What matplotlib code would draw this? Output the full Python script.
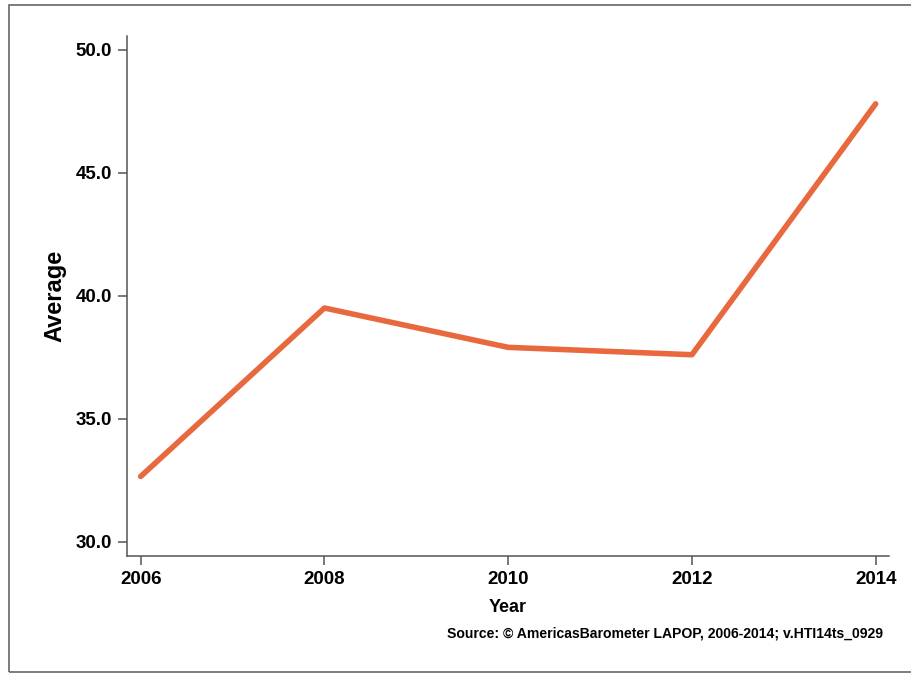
import matplotlib
matplotlib.use("Agg")
import matplotlib.pyplot as plt
from matplotlib.patches import Rectangle

years = [2006, 2008, 2010, 2012, 2014]
average = [32.65, 39.5, 37.9, 37.6, 47.8]
yticks = [30.0, 35.0, 40.0, 45.0, 50.0]
ytick_labels = ["30.0", "35.0", "40.0", "45.0", "50.0"]

plt.rcParams['font.family'] = ['Liberation Sans', 'DejaVu Sans']
plt.rcParams['font.weight'] = 'bold'

W, H = 911, 673
fig = plt.figure(figsize=(W / 100, H / 100), dpi=100)
fig.patch.set_facecolor('white')

# outer frame
fig.patches.append(Rectangle((8.5 / W, 1.5 / H), 1.2, (H - 6) / H,
                             transform=fig.transFigure, fill=False,
                             edgecolor='#666666', linewidth=1.2))

ax = fig.add_axes([126.7 / W, (H - 555.7) / H, (889 - 126.7) / W, (555.7 - 36) / H])
ax.plot(years, average, color='#E8693D', linewidth=4.0, solid_capstyle='round',
        solid_joinstyle='round')

ax.set_xlim(2005.848, 2014.145)
ax.set_ylim(29.43, 50.557)
ax.set_xticks(years)
ax.set_xticklabels([str(y) for y in years])
ax.set_yticks(yticks)
ax.set_yticklabels(ytick_labels)

for s in ['top', 'right']:
    ax.spines[s].set_visible(False)
for s in ['left', 'bottom']:
    ax.spines[s].set_color('#555555')
    ax.spines[s].set_linewidth(1.1)
ax.tick_params(axis='both', colors='#555555', labelcolor='black', labelsize=13.5,
               length=6.5, width=1.1, direction='out')
ax.tick_params(axis='y', pad=4)
ax.tick_params(axis='x', pad=4.5)
for lab in ax.get_xticklabels() + ax.get_yticklabels():
    lab.set_fontweight('bold')

def px(x, y):
    return x / W, (H - y) / H

fig.text(*px(55, 296), "Average", rotation=90, ha='center', va='center',
         fontsize=17, fontweight='bold')
fig.text(*px(508, 612), "Year", ha='center', va='baseline',
         fontsize=13, fontweight='bold')
fig.text(*px(883, 638), "Source: \u00a9 AmericasBarometer LAPOP, 2006-2014; v.HTI14ts_0929",
         ha='right', va='baseline', fontsize=10.1, fontweight='bold')

fig.savefig("out.png", dpi=100, facecolor='white')
